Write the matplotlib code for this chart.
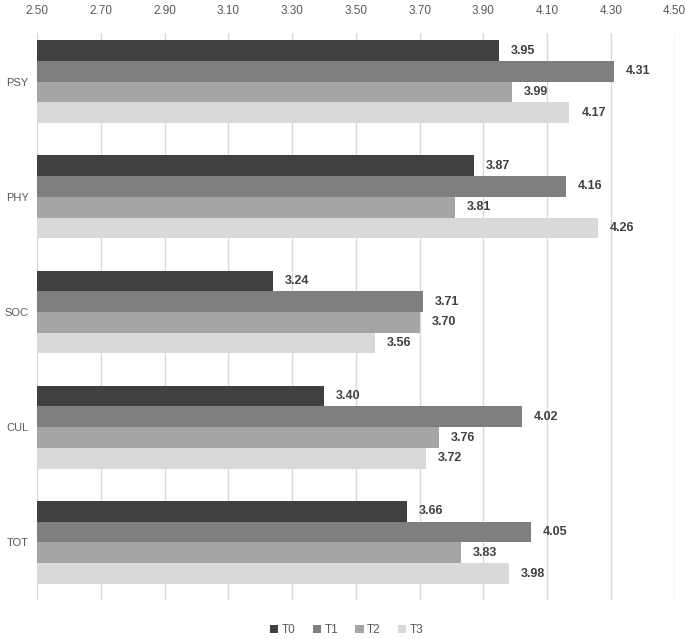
import numpy as np
import matplotlib
matplotlib.use("Agg")
import matplotlib.pyplot as plt

plt.rcParams['font.family'] = ['Liberation Sans', 'DejaVu Sans']

# Données
categories = ["PSY", "PHY", "SOC", "CUL", "TOT"]
series = ["T0", "T1", "T2", "T3"]
t0 = [3.95, 3.87, 3.24, 3.40, 3.66]
t1 = [4.31, 4.16, 3.71, 4.02, 4.05]
t2 = [3.99, 3.81, 3.70, 3.76, 3.83]
t3 = [4.17, 4.26, 3.56, 3.72, 3.98]
xticks = [2.50, 2.70, 2.90, 3.10, 3.30, 3.50, 3.70, 3.90, 4.10, 4.30, 4.50]

colors = ["#404040", "#7f7f7f", "#a5a5a5", "#d9d9d9"]

fig = plt.figure(figsize=(6.85, 6.39), dpi=100)
ax = fig.add_axes([0.054, 0.061, 0.931, 0.887])

y = np.arange(len(categories))
h = 0.18
base = 2.5
for i, (name, vals) in enumerate(zip(series, [t0, t1, t2, t3])):
    pos = y + (i - 1.5) * h
    widths = [v - base for v in vals]
    ax.barh(pos, widths, height=h, left=base, color=colors[i], label=name, zorder=2)
    for p, v in zip(pos, vals):
        ax.text(v + 0.037, p, f"{v:.2f}", va="center", ha="left",
                fontsize=9, fontweight="bold", color="#404040")

ax.set_xlim(2.5, 4.5)
ax.set_ylim(4.5, -0.42)
ax.set_xticks(xticks)
ax.set_xticklabels([f"{t:.2f}" for t in xticks])
ax.xaxis.tick_top()
ax.tick_params(axis="x", length=0, labelsize=8.5, colors="#595959", pad=12)
ax.set_yticks(y)
ax.set_yticklabels(categories)
ax.tick_params(axis="y", length=0, labelsize=8, colors="#595959", pad=6)
ax.grid(axis="x", color="#d9d9d9", linewidth=1, zorder=0)
for s in ax.spines.values():
    s.set_visible(False)

fig.legend(loc="center", ncol=4, frameon=False, fontsize=8.5,
           handlelength=0.7, handleheight=0.7, handletextpad=0.3,
           columnspacing=1.45, bbox_to_anchor=(0.506, 0.014),
           labelcolor="#595959")

fig.savefig("out.png", dpi=100)
